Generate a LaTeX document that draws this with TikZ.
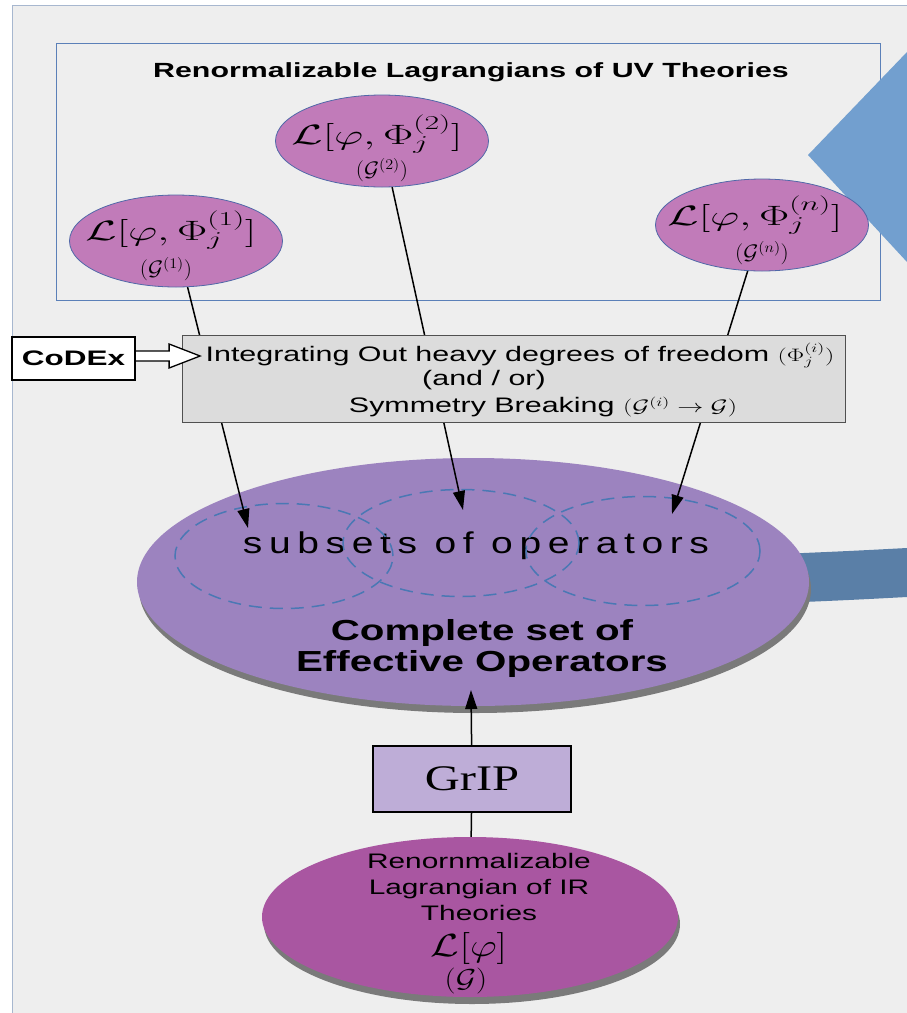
\RequirePackage{fix-cm}
\documentclass[tikz,border=0pt]{standalone}
\usepackage{fontspec}
\usepackage{graphicx}
\setmainfont{Liberation Sans}
\newfontfamily\serifgrip{Liberation Serif}
\usetikzlibrary{shapes.geometric,arrows.meta,calc,shadows}
\definecolor{bg}{HTML}{EEEEEE}
\definecolor{outeredge}{HTML}{A7B7CF}
\definecolor{rectedge}{HTML}{5B80B8}
\definecolor{uvfill}{HTML}{C17BB9}
\definecolor{uvedge}{HTML}{5068A8}
\definecolor{boxfill}{HTML}{DCDCDC}
\definecolor{boxedge}{HTML}{505050}
\definecolor{bigfill}{HTML}{9C83BF}
\definecolor{dashc}{HTML}{4A78B4}
\definecolor{gripfill}{HTML}{BEADD7}
\definecolor{irfill}{HTML}{A956A1}
\definecolor{trifill}{HTML}{729FCF}
\definecolor{bandfill}{HTML}{5A7FA7}
\definecolor{shadowc}{HTML}{7A7A7A}
\newcommand\sx[2][1.4]{\scalebox{#1}[1]{#2}}
\begin{document}
\begin{tikzpicture}[x=1pt,y=-1pt,
  uvell/.style={ellipse, draw=uvedge, line width=0.8pt, fill=uvfill,
    minimum width=213pt, minimum height=92pt, inner sep=0pt},
  mbig/.style={inner sep=0pt, font=\fontsize{28}{32}\selectfont},
  msmall/.style={inner sep=0pt, font=\fontsize{21}{24}\selectfont},
  dashell/.style={ellipse, draw=dashc, line width=1.5pt, dash pattern=on 13pt off 8pt, inner sep=0pt},
  conn/.style={draw=black, line width=1.5pt, -{Triangle[length=19pt,width=12pt]}},
  plainline/.style={draw=black, line width=1.5pt},
  boxtext/.style={inner sep=0pt, font=\fontsize{21}{25}\selectfont},
  shadowed/.style={drop shadow={shadow xshift=2pt, shadow yshift=-7pt, fill=shadowc, opacity=1}}
]
\clip (0,0) rectangle (907,1013);
\fill[white] (0,0) rectangle (907,1013);
\draw[draw=outeredge, fill=bg, line width=1pt] (12,5) rectangle (930,1030);

% UV rectangle
\draw[draw=rectedge, line width=0.9pt] (56,43) rectangle (880,300);
\node[inner sep=0pt, font=\fontsize{20.5}{24}\selectfont\bfseries] (title) at (471,72)
  {\sx[1.48]{Renormalizable Lagrangians of UV Theories}};

% right-hand shapes
\fill[trifill] (808,155) -- (907,52) -- (907,262) -- cycle;
\fill[bandfill] (780,554) .. controls (850,551) .. (907,548) -- (907,597) .. controls (850,600) .. (780,603) -- cycle;

% UV ellipses
\node[uvell] (e1) at (176,241) {};
\node[mbig] at (171,230) {\sx[1.62]{$\mathcal{L}[\varphi,\Phi_j^{(1)}]$}};
\node[msmall] at (166,269) {\sx[1.1]{$(\mathcal{G}^{(1)})$}};
\node[uvell] (e2) at (382,141) {};
\node[mbig] at (377,134) {\sx[1.62]{$\mathcal{L}[\varphi,\Phi_j^{(2)}]$}};
\node[msmall] at (382,170) {\sx[1.1]{$(\mathcal{G}^{(2)})$}};
\node[uvell] (e3) at (762,225) {};
\node[mbig] at (755,215) {\sx[1.62]{$\mathcal{L}[\varphi,\Phi_j^{(n)}]$}};
\node[msmall] at (762,253) {\sx[1.1]{$(\mathcal{G}^{(n)})$}};

% big ellipse of effective operators
\node[ellipse, fill=bigfill, shadowed, minimum width=672pt, minimum height=248pt, inner sep=0pt] (big) at (473,582) {};
\node[inner sep=0pt, font=\fontsize{30}{33}\selectfont] (subsets) at (476,546)
  {\addfontfeature{LetterSpace=17}\sx[1.3]{subsets of operators}};
\node[dashell, minimum width=218pt, minimum height=105pt] (d1) at (284,556) {};
\node[dashell, minimum width=236pt, minimum height=107pt] (d2) at (461,543) {};
\node[dashell, minimum width=234pt, minimum height=109pt] (d3) at (643,551) {};
\node[inner sep=0pt, align=center, font=\fontsize{29}{31}\selectfont\bfseries] (complete) at (482,648)
  {\sx[1.39]{Complete set of}\\\sx[1.39]{Effective Operators}};

% connectors from UV Lagrangians
\coordinate (t1) at (248,528);
\coordinate (t2) at (463,510);
\coordinate (t3) at (672,514);
\draw[conn] (e1) -- (t1);
\draw[conn] (e2) -- (t2);
\draw[conn] (e3) -- (t3);

% integrating-out box
\node[draw=boxedge, fill=boxfill, line width=1pt, minimum width=663pt, minimum height=87pt, inner sep=0pt] (box) at (513.5,378.5) {};
\node[boxtext] (l1) at (520,355) {\sx[1.45]{Integrating Out heavy degrees of freedom {\fontsize{18}{21}\selectfont$(\Phi_j^{(i)})$}}};
\node[boxtext] (l2) at (484,380) {\sx[1.45]{(and / or)}};
\node[boxtext] (l3) at (543,407) {\sx[1.45]{Symmetry Breaking {\fontsize{18}{21}\selectfont$(\mathcal{G}^{(i)}\rightarrow\mathcal{G})$}}};

% CoDEx
\node[draw=black, fill=white, line width=2.2pt, minimum width=123pt, minimum height=43pt, inner sep=0pt,
  font=\fontsize{21}{25}\selectfont\bfseries] (codex) at (73.5,358.5) {\sx[1.5]{CoDEx}};
\coordinate (ca) at ($(codex.east)+(0,-2.5)$);
\draw[draw=black, fill=white, line width=1.3pt, line join=miter]
  ($(ca)+(0,-5)$) -- ($(ca)+(33,-5)$) -- ($(ca)+(33,-12)$) -- ($(ca)+(64,0)$)
  -- ($(ca)+(33,12)$) -- ($(ca)+(33,5)$) -- ($(ca)+(0,5)$);

% GrIP
\node[draw=black, fill=gripfill, line width=1.5pt, minimum width=198pt, minimum height=66pt, inner sep=0pt,
  font=\fontsize{36}{40}\selectfont\serifgrip] (grip) at (472,779) {\sx[1.35]{GrIP}};
\coordinate (tg) at (471,690);
\draw[conn] (grip) -- (tg);

% IR Lagrangian
\node[ellipse, fill=irfill, shadowed, minimum width=416pt, minimum height=160pt, inner sep=0pt] (ir) at (470,917) {};
\draw[plainline] (grip) -- (ir);
\node[inner sep=0pt, align=center, font=\fontsize{21}{26}\selectfont] (irtext) at (479,887)
  {\sx[1.42]{Renornmalizable}\\\sx[1.42]{Lagrangian of IR}\\\sx[1.42]{Theories}};
\node[inner sep=0pt, font=\fontsize{32}{36}\selectfont] (irL) at (469,948) {\sx[1.3]{$\mathcal{L}[\varphi]$}};
\node[inner sep=0pt, font=\fontsize{26}{28}\selectfont] (irG) at (466,981) {\sx[1.2]{$(\mathcal{G})$}};
\end{tikzpicture}
\end{document}
